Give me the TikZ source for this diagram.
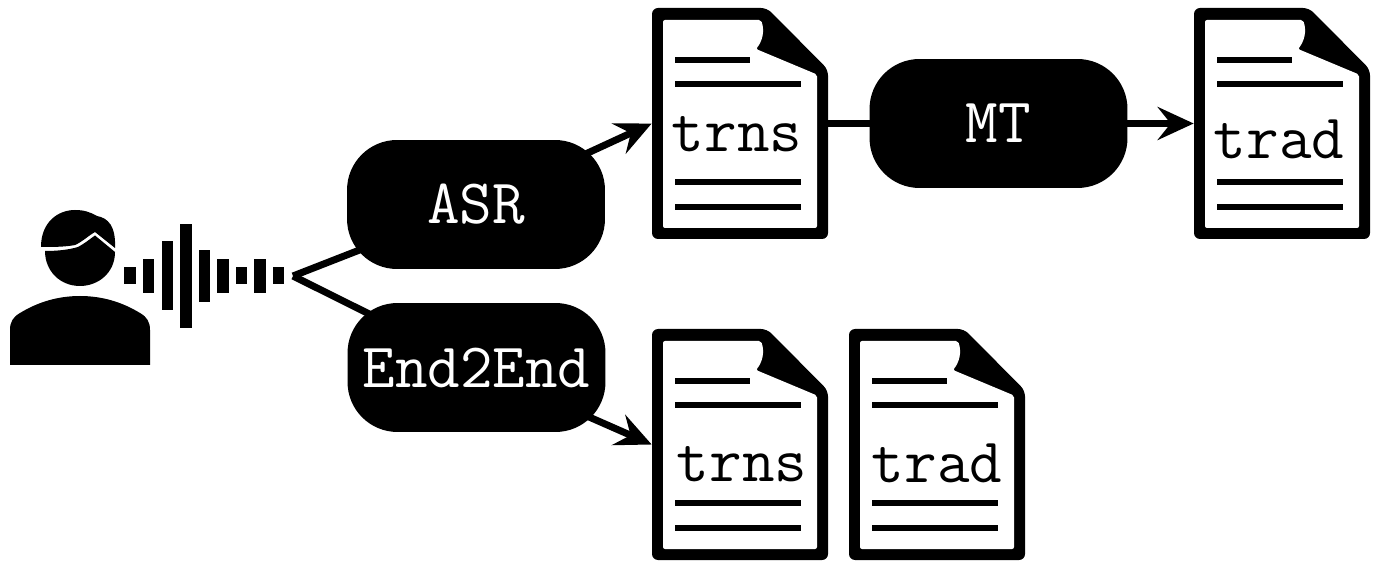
\documentclass[tikz,border=0pt]{standalone}
\usepackage{fontspec}
\setmonofont{Latin Modern Mono}
\usetikzlibrary{arrows.meta, backgrounds}

\tikzset{
    block/.style={fill=black, text=white, rounded corners=1cm, minimum width=5.16cm, minimum height=2.58cm, inner sep=0pt, font=\ttfamily\bfseries\fontsize{36}{36}\selectfont},
    docbox/.style={minimum width=3.52cm, minimum height=4.62cm, inner sep=0pt},
    doctext/.style={inner sep=0pt, font=\ttfamily\bfseries\fontsize{36}{36}\selectfont},
    link/.style={line width=0.14cm},
    textline/.style={line width=0.12cm},
    docfile/.pic={
        \fill[black, rounded corners=0.12cm] (-88,-115.5) -- (27,-115.5) -- (88,-54) -- (88,115.5) -- (-88,115.5) -- cycle;
        \fill[white, rounded corners=0.04cm] (-77,-103.5) -- (21,-103.5) .. controls (25,-92) and (22,-82) .. (16,-74.5) -- (77,-49) -- (77,104.5) -- (-77,104.5) -- cycle;
        \draw[textline] (-65,-63.5) -- (10,-63.5);
        \draw[textline] (-65,-39.5) -- (61,-39.5);
        \draw[textline] (-65,58.5) -- (61,58.5);
        \draw[textline] (-65,83.5) -- (61,83.5);
    }
}

\begin{document}
\begin{tikzpicture}[x=0.02cm, y=-0.02cm, >={Stealth[length=0.72cm, width=0.66cm, inset=0.26cm]}]
    \useasboundingbox (0,0) rectangle (1378,570);

    % speaker
    \fill (41,247) .. controls (41,222) and (58,210) .. (75,210) .. controls (84,210) and (90,212) .. (97,216) .. controls (108,218) and (116,226) .. (115,248) -- (95,232) .. controls (88,236) and (82,242) .. (75,245) .. controls (65,247) and (52,247) .. (41,247) -- cycle;
    \fill (45,251) .. controls (56,251) and (68,250) .. (78,247) .. controls (84,244) and (90,239) .. (95,235.5) -- (115,252) .. controls (115,273) and (98,286) .. (80,286) .. controls (60,286) and (45,271) .. (45,251) -- cycle;
    \fill (10,365) -- (150,365) -- (150,330) .. controls (150,322) and (147,317) .. (140,313) .. controls (122,302) and (102,296) .. (80,296) .. controls (58,296) and (38,302) .. (20,313) .. controls (13,317) and (10,322) .. (10,330) -- cycle;

    % sound wave
    \foreach \x/\h in {124.3/8.5, 143/17, 161.7/34.5, 180.3/52, 198.7/26, 217.3/17, 236/8.5, 254.3/17, 273/8.5} {
        \fill ({\x},{276-\h}) rectangle ({\x+11.3},{276+\h});
    }

    \coordinate (voice) at (293,276);

    \node[block] (asr) at (476,204.5) {ASR};
    \node[block] (mt) at (998.5,123.5) {MT};
    \node[block] (e2e) at (476.5,367.5) {End2End};

    \node[docbox] (trnsa) at (740,123.5) {};
    \node[docbox] (trada) at (1282,123.5) {};
    \node[docbox] (trnsb) at (740,444.5) {};
    \node[docbox] (tradb) at (937,444.5) {};

    \pic at (trnsa) {docfile};
    \pic at (trada) {docfile};
    \pic at (trnsb) {docfile};
    \pic at (tradb) {docfile};

    \node[doctext] (ta) at (737,134) {trns};
    \node[doctext] (tb) at (1279,139) {trad};
    \node[doctext] (tc) at (742,464) {trns};
    \node[doctext] (td) at (937,463) {trad};

    \begin{scope}[on background layer]
        \draw[link] (voice) -- (asr.center);
        \draw[link] (voice) -- (e2e.center);
        \draw[link, ->] (asr.center) -- (trnsa.west);
        \draw[link] (trnsa.east) -- (mt.center);
        \draw[link, ->] (mt.center) -- (trada.west);
        \draw[link, ->] (e2e.center) -- (trnsb.west);
    \end{scope}
\end{tikzpicture}
\end{document}
